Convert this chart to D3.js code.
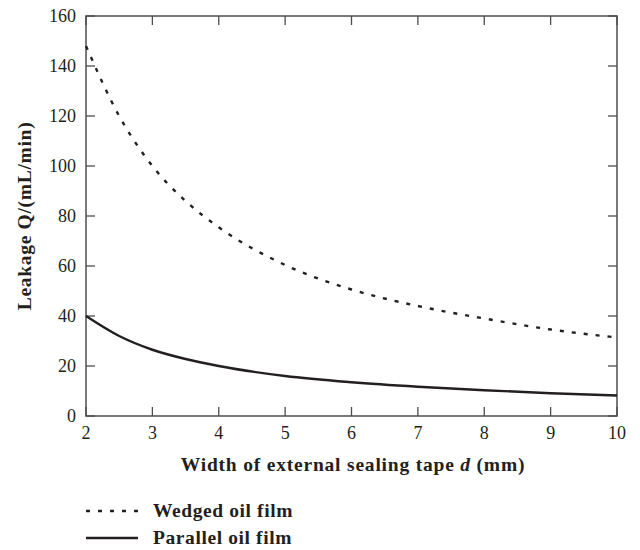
<!DOCTYPE html>
<html>
<head>
<meta charset="utf-8">
<script src="https://cdn.jsdelivr.net/npm/d3@7"></script>
<style>
  body { margin: 0; background: #fff; }
  text { font-family: "Liberation Serif", "Times New Roman", serif; fill: #231f20; }
</style>
</head>
<body>
<svg id="chart" width="640" height="550"></svg>
<script>
// values
var widths   = [2, 2.5, 3, 3.5, 4, 5, 6, 7, 8, 9, 10];
var wedged   = [148, 120, 100, 86, 75.5, 60.4, 50.6, 44, 39, 34.6, 31.4];
var parallel = [40, 32, 26.5, 22.8, 20, 16, 13.5, 11.7, 10.3, 9.1, 8.2];
var xTicks = [2, 3, 4, 5, 6, 7, 8, 9, 10];
var yTicks = [0, 20, 40, 60, 80, 100, 120, 140, 160];

var svg = d3.select("#chart");
var pLeft = 86, pRight = 617, pTop = 16, pBottom = 416;
var ink = "#231f20", axisCol = "#4d4d4f";

var x = d3.scaleLinear().domain([2, 10]).range([pLeft, pRight]);
var y = d3.scaleLinear().domain([0, 160]).range([pBottom, pTop]);

// frame with inward ticks on all four sides
var frame = svg.append("g");
frame.append("rect")
    .attr("x", pLeft).attr("y", pTop)
    .attr("width", pRight - pLeft).attr("height", pBottom - pTop)
    .attr("fill", "none").attr("stroke", axisCol).attr("stroke-width", 1.5);

var tl = 9;
xTicks.forEach(function(t) {
  frame.append("line").attr("x1", x(t)).attr("x2", x(t)).attr("y1", pBottom).attr("y2", pBottom - tl)
      .attr("stroke", axisCol).attr("stroke-width", 1.3);
  frame.append("line").attr("x1", x(t)).attr("x2", x(t)).attr("y1", pTop).attr("y2", pTop + tl)
      .attr("stroke", axisCol).attr("stroke-width", 1.3);
  svg.append("text").attr("x", x(t)).attr("y", 439)
      .attr("text-anchor", "middle").attr("font-size", 18).text(t);
});
yTicks.forEach(function(t) {
  frame.append("line").attr("x1", pLeft).attr("x2", pLeft + tl).attr("y1", y(t)).attr("y2", y(t))
      .attr("stroke", axisCol).attr("stroke-width", 1.3);
  frame.append("line").attr("x1", pRight).attr("x2", pRight - tl).attr("y1", y(t)).attr("y2", y(t))
      .attr("stroke", axisCol).attr("stroke-width", 1.3);
  svg.append("text").attr("x", 76).attr("y", y(t) + 6)
      .attr("text-anchor", "end").attr("font-size", 18).text(t);
});

// curves
var line = d3.line().curve(d3.curveMonotoneX)
    .x(function(d) { return x(d[0]); })
    .y(function(d) { return y(d[1]); });

svg.append("path")
    .datum(d3.zip(widths, wedged))
    .attr("d", line)
    .attr("fill", "none").attr("stroke", ink)
    .attr("stroke-width", 2.4).attr("stroke-dasharray", "4,8");

svg.append("path")
    .datum(d3.zip(widths, parallel))
    .attr("d", line)
    .attr("fill", "none").attr("stroke", ink)
    .attr("stroke-width", 2.4);

// axis titles
var xt = svg.append("text").attr("x", 353).attr("y", 471)
    .attr("text-anchor", "middle").attr("font-size", 19.5).attr("font-weight", "bold")
    .attr("letter-spacing", 0.8);
xt.append("tspan").text("Width of external sealing tape ");
xt.append("tspan").attr("font-style", "italic").text("d");
xt.append("tspan").text(" (mm)");

svg.append("text")
    .attr("transform", "translate(31," + ((pTop + pBottom) / 2) + ") rotate(-90)")
    .attr("text-anchor", "middle").attr("font-size", 19.5).attr("font-weight", "bold")
    .attr("letter-spacing", 0.7)
    .text("Leakage Q/(mL/min)");

// legend
var legend = [
  {name: "Wedged oil film", dash: "4,8", y: 511},
  {name: "Parallel oil film", dash: null, y: 538}
];
legend.forEach(function(l) {
  svg.append("line").attr("x1", 86).attr("x2", 138).attr("y1", l.y).attr("y2", l.y)
      .attr("stroke", ink).attr("stroke-width", 2.4)
      .attr("stroke-dasharray", l.dash);
  svg.append("text").attr("x", 153).attr("y", l.y + 6)
      .attr("font-size", 19.5).attr("font-weight", "bold").attr("letter-spacing", 0.6)
      .text(l.name);
});
</script>
</body>
</html>
